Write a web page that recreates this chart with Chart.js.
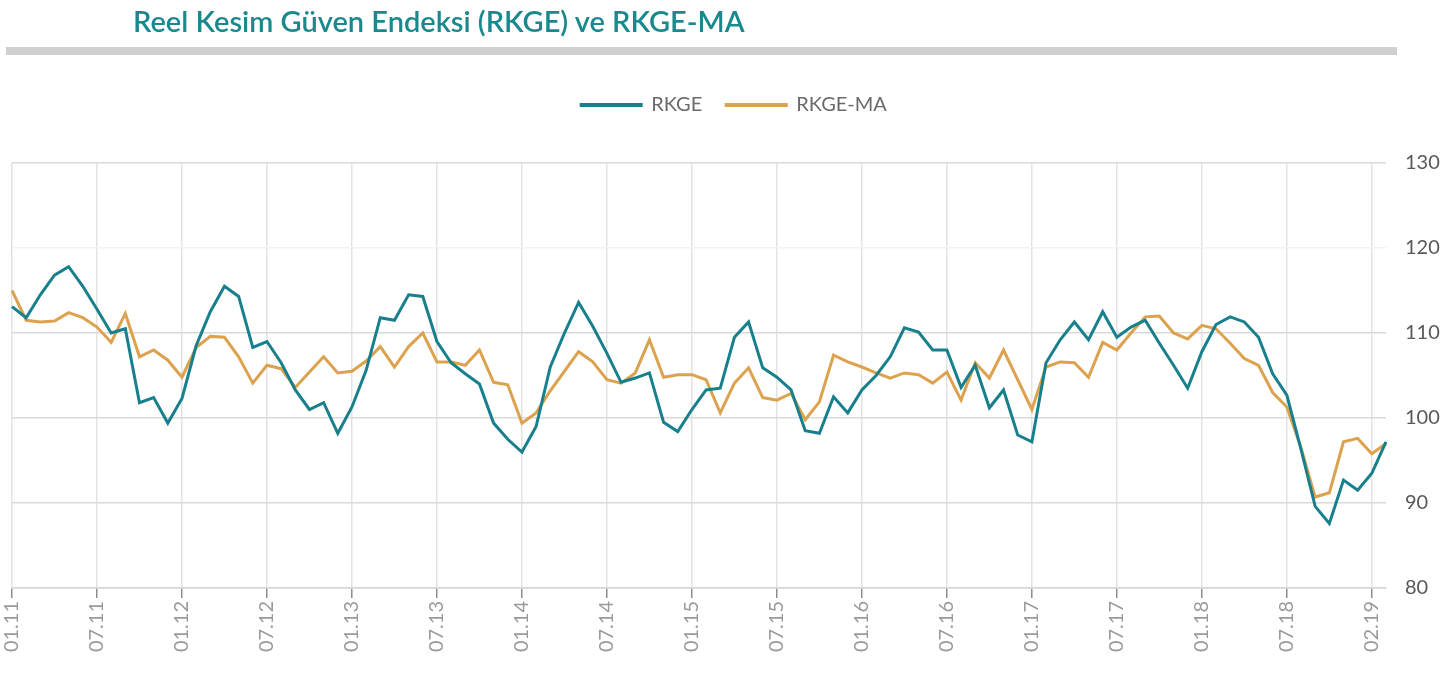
<!DOCTYPE html>
<html lang="tr">
<head>
    <meta charset="UTF-8">
    <title>Reel Kesim Güven Endeksi (RKGE) ve RKGE-MA</title>
    <script src="https://cdn.jsdelivr.net/npm/chart.js"></script>
    <style>
        html, body { margin: 0; padding: 0; background: #fff; }
        body { width: 1456px; height: 675px; position: relative; overflow: hidden; font-family: Lato, sans-serif; }
        .chart-box { position: absolute; left: 0; top: 0; width: 1456px; height: 675px; }
        .title { position: absolute; left: 133px; top: 3px; font-size: 29px; font-weight: 600; color: #1a898e; white-space: nowrap; }
        .bar { position: absolute; left: 6px; top: 47px; width: 1391px; height: 8px; background: #cfcfcf; }
    </style>
</head>
<body>
    <div class="chart-box">
        <canvas id="rkgeChart" aria-label="RKGE ve RKGE-MA" role="img"></canvas>
    </div>
    <div class="title">Reel Kesim Güven Endeksi (RKGE) ve RKGE-MA</div>
    <div class="bar"></div>
    <script>
        // aylar: 01.11 - 02.19
        const months = [
            '01.11','02.11','03.11','04.11','05.11','06.11','07.11','08.11','09.11','10.11','11.11','12.11',
            '01.12','02.12','03.12','04.12','05.12','06.12','07.12','08.12','09.12','10.12','11.12','12.12',
            '01.13','02.13','03.13','04.13','05.13','06.13','07.13','08.13','09.13','10.13','11.13','12.13',
            '01.14','02.14','03.14','04.14','05.14','06.14','07.14','08.14','09.14','10.14','11.14','12.14',
            '01.15','02.15','03.15','04.15','05.15','06.15','07.15','08.15','09.15','10.15','11.15','12.15',
            '01.16','02.16','03.16','04.16','05.16','06.16','07.16','08.16','09.16','10.16','11.16','12.16',
            '01.17','02.17','03.17','04.17','05.17','06.17','07.17','08.17','09.17','10.17','11.17','12.17',
            '01.18','02.18','03.18','04.18','05.18','06.18','07.18','08.18','09.18','10.18','11.18','12.18',
            '01.19','02.19'
        ];

        // eksende yazan etiketler (her 6 ayda bir)
        const tickLabels = ['01.11','07.11','01.12','07.12','01.13','07.13','01.14','07.14','01.15',
            '07.15','01.16','07.16','01.17','07.17','01.18','07.18','02.19'];

        const rkge = [
            113.1, 111.8, 114.5, 116.8, 117.8, 115.5, 112.8, 110.0, 110.5, 101.8, 102.4, 99.4,
            102.3, 108.5, 112.5, 115.5, 114.3, 108.3, 109.0, 106.5, 103.3, 101.0, 101.8, 98.2,
            101.3, 105.6, 111.8, 111.5, 114.5, 114.3, 109.0, 106.5, 105.2, 104.0, 99.4, 97.5,
            96.0, 99.0, 106.0, 110.0, 113.6, 110.8, 107.6, 104.2, 104.7, 105.3, 99.5, 98.4,
            101.0, 103.3, 103.5, 109.5, 111.3, 105.9, 104.8, 103.3, 98.5, 98.2, 102.5, 100.6,
            103.3, 105.0, 107.2, 110.6, 110.1, 108.0, 108.0, 103.6, 106.2, 101.2, 103.3, 98.0,
            97.2, 106.5, 109.2, 111.3, 109.2, 112.5, 109.5, 110.7, 111.5, 108.8, 106.2, 103.5,
            107.8, 111.0, 111.9, 111.3, 109.5, 105.2, 102.7, 96.3, 89.6, 87.6, 92.7, 91.5,
            93.5, 97.2
        ];

        const rkgeMa = [
            115.0, 111.5, 111.3, 111.4, 112.4, 111.8, 110.7, 108.9, 112.3, 107.2, 108.0, 106.8,
            104.8, 108.3, 109.6, 109.5, 107.2, 104.1, 106.2, 105.8, 103.6, 105.4, 107.2, 105.3,
            105.5, 106.7, 108.4, 106.0, 108.4, 110.0, 106.6, 106.6, 106.2, 108.0, 104.2, 103.9,
            99.4, 100.6, 103.2, 105.5, 107.8, 106.6, 104.5, 104.1, 105.3, 109.2, 104.8, 105.1,
            105.1, 104.5, 100.6, 104.1, 105.9, 102.4, 102.1, 102.9, 99.8, 101.9, 107.4, 106.6,
            106.0, 105.3, 104.7, 105.3, 105.1, 104.1, 105.4, 102.1, 106.5, 104.7, 108.0, 104.5,
            101.0, 106.0, 106.6, 106.5, 104.8, 108.9, 108.0, 110.0, 111.9, 112.0, 110.0, 109.3,
            110.9, 110.5, 108.8, 107.0, 106.2, 103.0, 101.3, 96.5, 90.7, 91.2, 97.2, 97.6,
            95.8, 97.0
        ];

        const tealColor = '#18808c';
        const orangeColor = '#dca24e';

        // legend ile grafik alani arasinda bosluk
        const legendSpacer = {
            id: 'legendSpacer',
            beforeInit(chart) {
                const fit = chart.legend.fit;
                chart.legend.fit = function () {
                    fit.bind(chart.legend)();
                    this.height += 38;
                };
            }
        };

        const ctx = document.getElementById('rkgeChart').getContext('2d');
        new Chart(ctx, {
            type: 'line',
            data: {
                labels: months,
                datasets: [{
                    label: 'RKGE',
                    data: rkge,
                    borderColor: tealColor,
                    backgroundColor: tealColor,
                    borderWidth: 3,
                    pointRadius: 0,
                    tension: 0
                }, {
                    label: 'RKGE-MA',
                    data: rkgeMa,
                    borderColor: orangeColor,
                    backgroundColor: orangeColor,
                    borderWidth: 3,
                    pointRadius: 0,
                    tension: 0
                }]
            },
            options: {
                responsive: true,
                maintainAspectRatio: false,
                animation: false,
                layout: { padding: { top: 71, left: 12, right: 0, bottom: 0 } },
                plugins: {
                    legend: {
                        position: 'top',
                        labels: {
                            boxWidth: 60,
                            boxHeight: 1,
                            padding: 24,
                            color: '#6b6b6b',
                            font: { family: 'Lato', size: 20 }
                        }
                    },
                    tooltip: { enabled: false }
                },
                scales: {
                    x: {
                        offset: false,
                        afterFit(scale) { scale.height = 87; },
                        grid: {
                            color: (c) => c.index % 6 === 0 ? '#e3e3e3' : 'transparent',
                            tickColor: (c) => c.index % 6 === 0 ? '#8c8c8c' : 'transparent',
                            tickLength: 10,
                            lineWidth: 1.5
                        },
                        border: { display: true, color: '#d6d6d6', width: 1.5 },
                        ticks: {
                            autoSkip: false,
                            maxRotation: 90,
                            minRotation: 90,
                            padding: 3,
                            color: '#9a9a9a',
                            font: { family: 'Lato', size: 20 },
                            callback: (value, i) => i % 6 === 0 ? tickLabels[i / 6] : ''
                        }
                    },
                    y: {
                        position: 'right',
                        min: 80,
                        max: 130,
                        afterFit(scale) { scale.width = 70; },
                        grid: {
                            color: (c) => c.tick && c.tick.value === 120 ? '#f2f2f2' : '#dadada',
                            lineWidth: 1.5,
                            drawTicks: false
                        },
                        border: { display: false },
                        ticks: {
                            stepSize: 10,
                            padding: 19,
                            color: '#595959',
                            font: { family: 'Lato', size: 20 }
                        }
                    }
                }
            },
            plugins: [legendSpacer]
        });
    </script>
</body>
</html>
